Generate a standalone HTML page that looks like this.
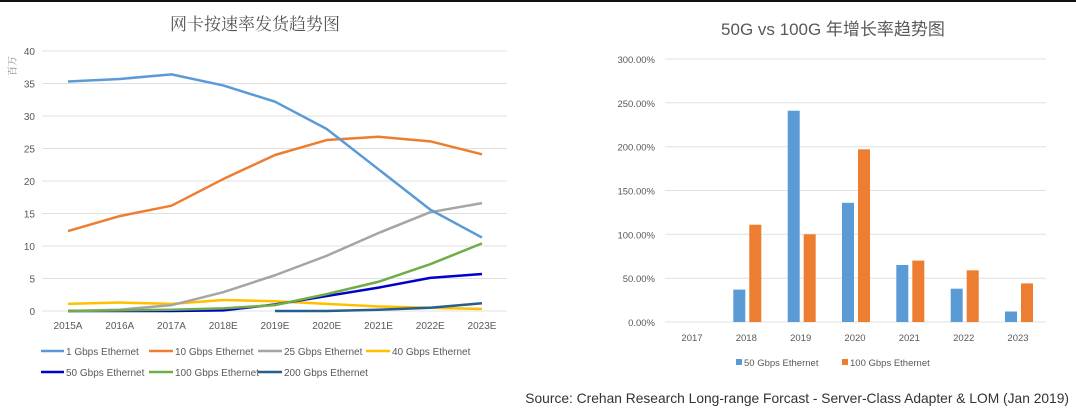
<!DOCTYPE html>
<html><head><meta charset="utf-8"><style>
body{margin:0;background:#fff;}
svg{display:block;font-family:"Liberation Sans","Noto Sans CJK SC",sans-serif;}
</style></head><body>
<svg width="1076" height="412" viewBox="0 0 1076 412" xmlns="http://www.w3.org/2000/svg">
<rect x="0" y="0" width="1076" height="2" fill="#111"/>
<text x="255" y="30" text-anchor="middle" font-size="17" fill="#555" font-family="'Noto Serif CJK SC',serif">网卡按速率发货趋势图</text>
<text transform="translate(16,66) rotate(-90)" text-anchor="middle" font-size="10" fill="#888" font-family="'Noto Serif CJK SC',serif">百万</text>
<g stroke="#e0e0e0" stroke-width="1">
<line x1="42" x2="507" y1="51" y2="51"/><line x1="42" x2="507" y1="83.5" y2="83.5"/><line x1="42" x2="507" y1="116" y2="116"/><line x1="42" x2="507" y1="148.5" y2="148.5"/><line x1="42" x2="507" y1="181" y2="181"/><line x1="42" x2="507" y1="213.5" y2="213.5"/><line x1="42" x2="507" y1="246" y2="246"/><line x1="42" x2="507" y1="278.5" y2="278.5"/><line x1="42" x2="507" y1="311" y2="311"/>
</g>
<g font-size="10" fill="#595959" text-anchor="end">
<text x="35" y="55">40</text><text x="35" y="87.5">35</text><text x="35" y="120">30</text><text x="35" y="152.5">25</text><text x="35" y="185">20</text><text x="35" y="217.5">15</text><text x="35" y="250">10</text><text x="35" y="282.5">5</text><text x="35" y="315">0</text>
</g>
<g font-size="10" fill="#595959" text-anchor="middle">
<text x="68" y="329">2015A</text><text x="119.75" y="329">2016A</text><text x="171.5" y="329">2017A</text><text x="223.25" y="329">2018E</text><text x="275" y="329">2019E</text><text x="326.75" y="329">2020E</text><text x="378.5" y="329">2021E</text><text x="430.25" y="329">2022E</text><text x="482" y="329">2023E</text>
</g>
<g fill="none" stroke-width="2.5" stroke-linejoin="round">
<polyline stroke="#ffc000" points="68,303.85 119.75,302.55 171.5,303.85 223.25,299.95 275,301.25 326.75,303.85 378.5,306.45 430.25,307.75 482,309.05"/>
<polyline stroke="#a5a5a5" points="68,311 119.75,309.7 171.5,305.15 223.25,292.15 275,275.25 326.75,255.75 378.5,233 430.25,212.2 482,203.1"/>
<polyline stroke="#0000cc" points="68,311 119.75,311 171.5,311 223.25,310.35 275,304.5 326.75,296.05 378.5,287.6 430.25,277.85 482,273.95"/>
<polyline stroke="#70ad47" points="68,311 119.75,310.35 171.5,309.7 223.25,308.4 275,305.15 326.75,294.1 378.5,281.75 430.25,264.2 482,243.4"/>
<polyline stroke="#255e91" points="275,311 326.75,311 378.5,309.7 430.25,307.75 482,303.2"/>
<polyline stroke="#ed7d31" points="68,231.05 119.75,216.1 171.5,205.7 223.25,179.05 275,155 326.75,140.05 378.5,136.8 430.25,141.35 482,154.35"/>
<polyline stroke="#5b9bd5" points="68,81.55 119.75,78.95 171.5,74.4 223.25,85.45 275,101.7 326.75,129 378.5,169.3 430.25,209.6 482,237.55"/>
</g>
<g stroke-width="2.5">
<line x1="41" x2="64" y1="351" y2="351" stroke="#5b9bd5"/><line x1="149" x2="173" y1="351" y2="351" stroke="#ed7d31"/><line x1="258" x2="282" y1="351" y2="351" stroke="#a5a5a5"/><line x1="366" x2="390" y1="351" y2="351" stroke="#ffc000"/>
<line x1="41" x2="64" y1="372" y2="372" stroke="#0000cc"/><line x1="149" x2="173" y1="372" y2="372" stroke="#70ad47"/><line x1="258" x2="282" y1="372" y2="372" stroke="#255e91"/>
</g>
<g font-size="10" fill="#595959">
<text x="66" y="355">1 Gbps Ethernet</text><text x="175" y="355">10 Gbps Ethernet</text><text x="284" y="355">25 Gbps Ethernet</text><text x="392" y="355">40 Gbps Ethernet</text>
<text x="66" y="376">50 Gbps Ethernet</text><text x="175" y="376">100 Gbps Ethernet</text><text x="284" y="376">200 Gbps Ethernet</text>
</g>

<text x="833" y="35" text-anchor="middle" font-size="17" fill="#595959">50G vs 100G 年增长率趋势图</text>
<g stroke="#e0e0e0" stroke-width="1">
<line x1="665" x2="1046" y1="59" y2="59"/><line x1="665" x2="1046" y1="102.8" y2="102.8"/><line x1="665" x2="1046" y1="146.7" y2="146.7"/><line x1="665" x2="1046" y1="190.5" y2="190.5"/><line x1="665" x2="1046" y1="234.3" y2="234.3"/><line x1="665" x2="1046" y1="278.2" y2="278.2"/><line x1="665" x2="1046" y1="322" y2="322"/>
</g>
<g font-size="9.5" fill="#595959" text-anchor="end">
<text x="655" y="63">300.00%</text><text x="655" y="106.8">250.00%</text><text x="655" y="150.7">200.00%</text><text x="655" y="194.5">150.00%</text><text x="655" y="238.3">100.00%</text><text x="655" y="282.2">50.00%</text><text x="655" y="326">0.00%</text>
</g>
<g font-size="9.5" fill="#595959" text-anchor="middle">
<text x="692" y="341">2017</text><text x="746.3" y="341">2018</text><text x="800.7" y="341">2019</text><text x="855" y="341">2020</text><text x="909.3" y="341">2021</text><text x="963.7" y="341">2022</text><text x="1018" y="341">2023</text>
</g>
<g fill="#5b9bd5">
<rect x="733.3" y="289.6" width="12" height="32.4"/><rect x="787.7" y="110.7" width="12" height="211.3"/><rect x="842" y="202.8" width="12" height="119.2"/><rect x="896.3" y="265" width="12" height="57"/><rect x="950.7" y="288.7" width="12" height="33.3"/><rect x="1005" y="311.5" width="12" height="10.5"/>
</g>
<g fill="#ed7d31">
<rect x="749.3" y="224.7" width="12" height="97.3"/><rect x="803.7" y="234.3" width="12" height="87.7"/><rect x="858" y="149.3" width="12" height="172.7"/><rect x="912.3" y="260.6" width="12" height="61.4"/><rect x="966.7" y="270.3" width="12" height="51.7"/><rect x="1021" y="283.4" width="12" height="38.6"/>
</g>
<rect x="736" y="359" width="6" height="6" fill="#5b9bd5"/><text x="744" y="366" font-size="9.5" fill="#595959">50 Gbps Ethernet</text>
<rect x="842" y="359" width="6" height="6" fill="#ed7d31"/><text x="850" y="366" font-size="9.5" fill="#595959">100 Gbps Ethernet</text>
<text x="1069" y="403" text-anchor="end" font-size="13.8" fill="#333">Source: Crehan Research Long-range Forcast - Server-Class Adapter &amp; LOM (Jan 2019)</text>
</svg>
</body></html>
